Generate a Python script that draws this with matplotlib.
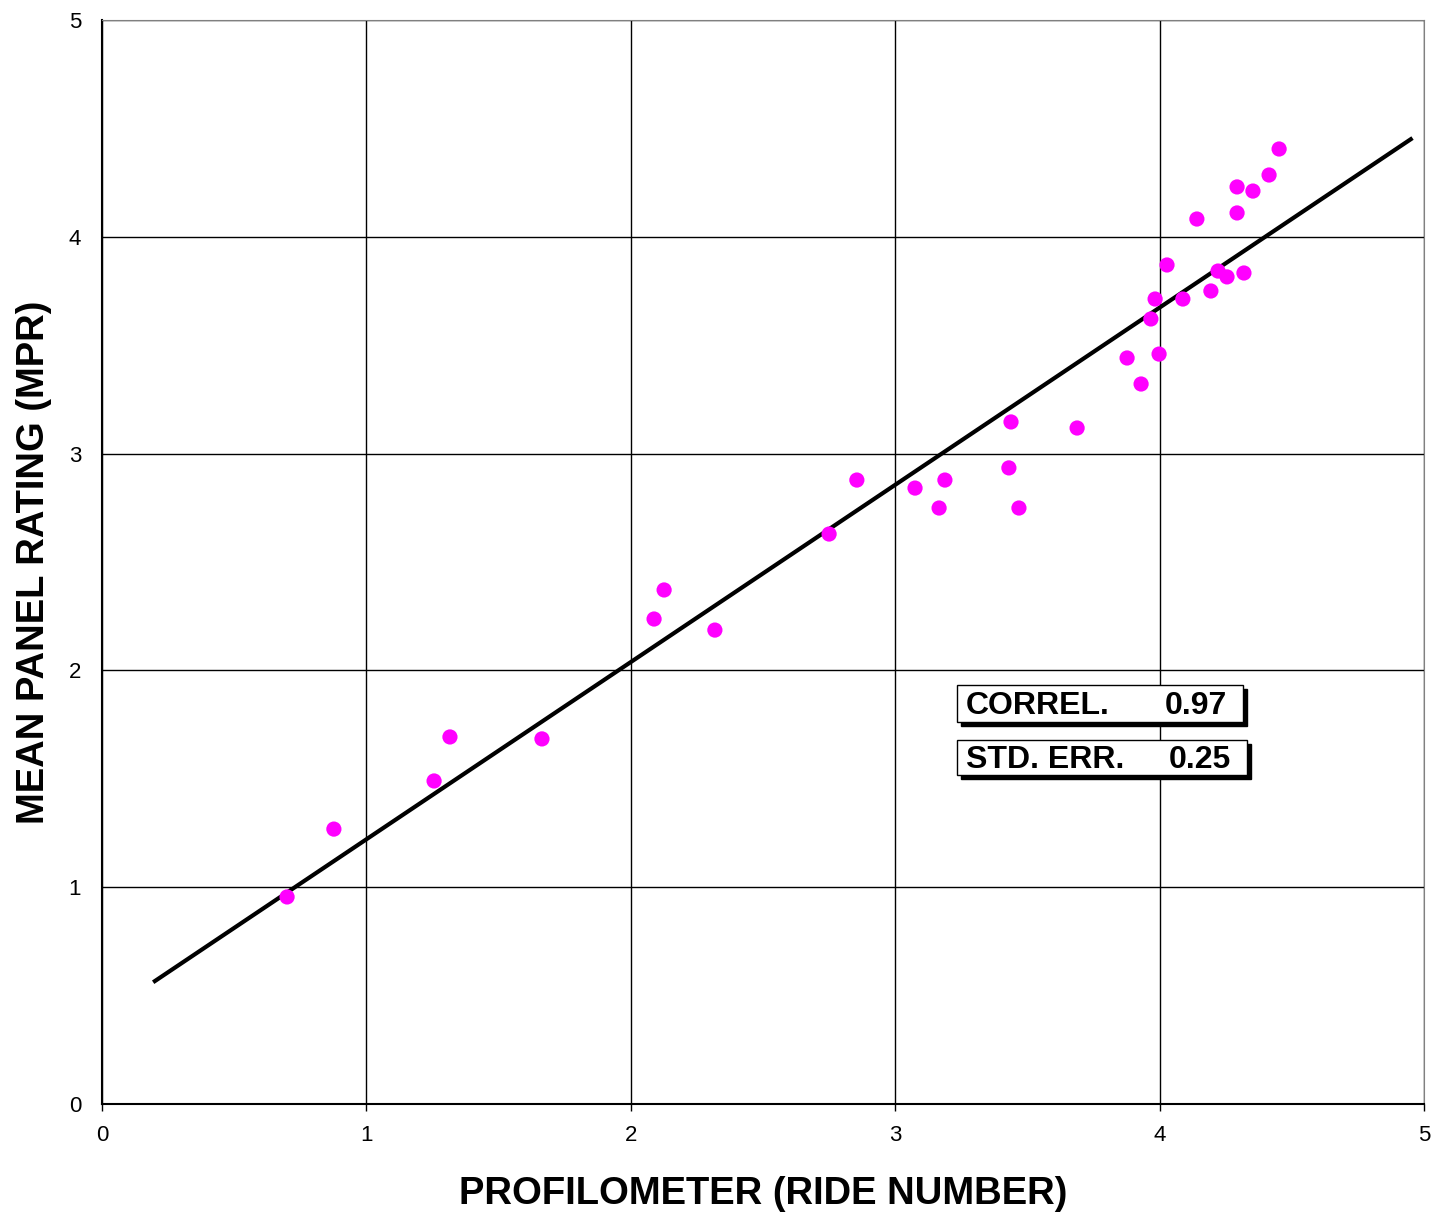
import numpy as np
import matplotlib.pyplot as plt
from matplotlib.patches import Rectangle

plt.switch_backend('agg')

# ride number (profilometer) vs mean panel rating
ride_number = [0.70, 0.877, 1.256, 1.316, 1.664, 2.088, 2.126, 2.318, 2.750, 2.855,
               3.075, 3.166, 3.188, 3.430, 3.438, 3.468, 3.688, 3.877, 3.930, 3.967,
               3.983, 3.998, 4.028, 4.088, 4.141, 4.194, 4.221, 4.255, 4.293, 4.293,
               4.319, 4.353, 4.414, 4.452]
mpr = [0.955, 1.268, 1.490, 1.693, 1.684, 2.237, 2.371, 2.186, 2.629, 2.878,
       2.841, 2.749, 2.878, 2.934, 3.146, 2.749, 3.118, 3.441, 3.321, 3.621,
       3.713, 3.459, 3.870, 3.713, 4.082, 3.750, 3.842, 3.815, 4.110, 4.230,
       3.833, 4.211, 4.285, 4.405]

# regression line
fit_slope = 0.8175
fit_intercept = 0.4035
fit_range = [0.20, 4.95]

stats_labels = ['CORREL.', 'STD. ERR.']
stats_values = ['0.97', '0.25']

ticks = [0, 1, 2, 3, 4, 5]

fig = plt.figure(figsize=(14.37, 12.17), dpi=100)
ax = fig.add_axes([102/1437, 1-1104/1217, 1322/1437, 1084/1217])
ax.set_xlim(0, 5)
ax.set_ylim(0, 5)
ax.set_xticks(ticks)
ax.set_yticks(ticks)
ax.grid(True, color='black', linewidth=1.0)
ax.set_axisbelow(True)

fx = np.array(fit_range)
ax.plot(fx, fit_slope*fx + fit_intercept, color='black', linewidth=3, zorder=3)
ax.scatter(ride_number, mpr, s=120, color='#ff00ff', edgecolors='none', zorder=4)

for s in ['top', 'right']:
    ax.spines[s].set_color('#808080')
for s in ['left', 'bottom']:
    ax.spines[s].set_color('black')
    ax.spines[s].set_linewidth(1.5)

ax.tick_params(axis='both', labelsize=16, width=1, color='black',
               labelfontfamily='Liberation Sans')
ax.tick_params(axis='y', length=0, pad=15)
ax.tick_params(axis='x', length=5, pad=10)

ax.set_xlabel('PROFILOMETER (RIDE NUMBER)', fontsize=27.5, fontweight='bold',
              family='Liberation Sans', labelpad=22)
ax.set_ylabel('MEAN PANEL RATING (MPR)', fontsize=27.5, fontweight='bold',
              family='Liberation Sans', labelpad=12)

# stats boxes
box_tops = [685, 740]
box_bottoms = [722, 775]
box_rights = [1243, 1247]
for lab, val, top, bot, right in zip(stats_labels, stats_values, box_tops, box_bottoms, box_rights):
    x0 = 957/1437
    y0 = 1 - bot/1217
    w = (right - 957)/1437
    h = (bot - top)/1217
    fig.patches.append(Rectangle((x0 + 4/1437, y0 - 4/1217), w, h, transform=fig.transFigure,
                                 facecolor='black', edgecolor='black', zorder=5))
    fig.patches.append(Rectangle((x0, y0), w, h, transform=fig.transFigure,
                                 facecolor='white', edgecolor='black', linewidth=1, zorder=6))
    ymid = y0 + h/2 - 2/1217
    fig.text(966/1437, ymid, lab, fontsize=23, fontweight='bold', family='Liberation Sans',
             ha='left', va='center', zorder=7)
    fig.text((right - 16)/1437, ymid, val, fontsize=23, fontweight='bold', family='Liberation Sans',
             ha='right', va='center', zorder=7)

fig.savefig('out.png', dpi=100)
